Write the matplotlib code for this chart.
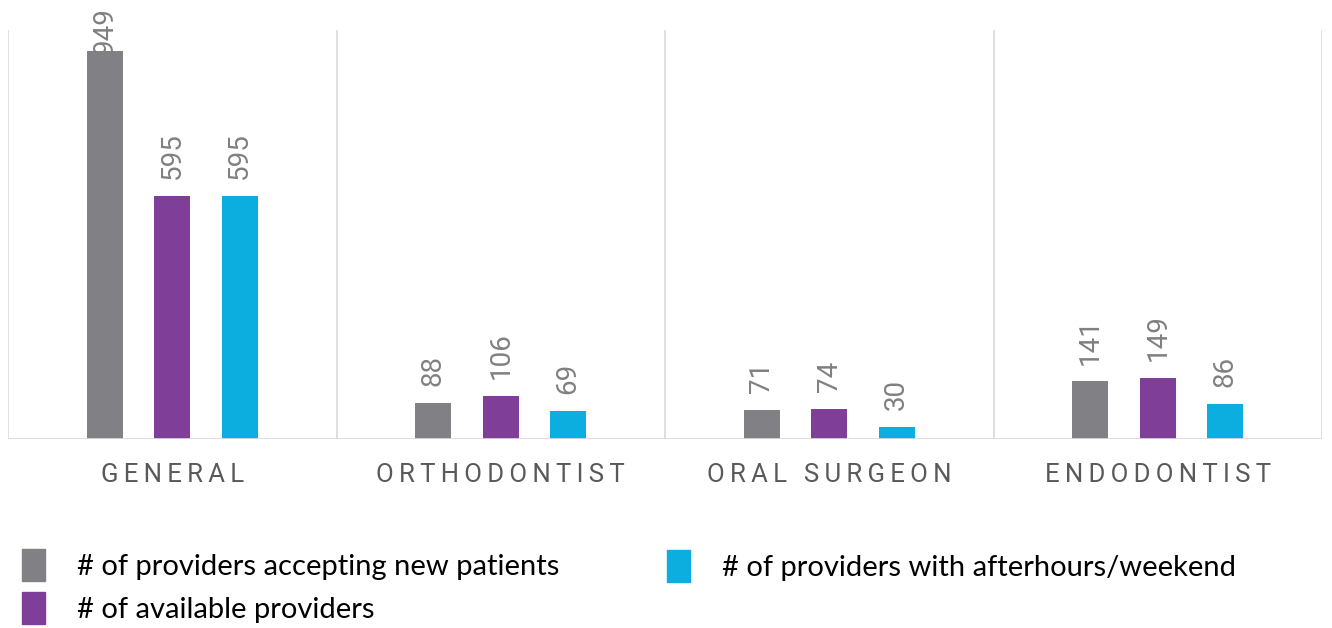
import matplotlib
matplotlib.use("Agg")
import matplotlib.pyplot as plt
from matplotlib.patches import Patch
import numpy as np

categories = ["GENERAL", "ORTHODONTIST", "ORAL SURGEON", "ENDODONTIST"]
series_names = ["# of providers accepting new patients",
                "# of available providers",
                "# of providers with afterhours/weekend"]
accepting_new = [949, 88, 71, 141]
available = [595, 106, 74, 149]
afterhours = [595, 69, 30, 86]
colors = ["#808085", "#7F3F98", "#0BAEDF"]

plt.rcParams['font.family'] = ['Roboto', 'DejaVu Sans']


def spaced(s):
    # fake letter spacing with thin spaces
    return "\u2009".join(s)


fig = plt.figure(figsize=(13.32, 6.28), dpi=100)
ax = fig.add_axes([8 / 1332, 189 / 628, 1314 / 1332, 409 / 628])

x = np.arange(len(categories))
offsets = [-0.205, 0, 0.205]
width = 0.11
for vals, off, col in zip([accepting_new, available, afterhours], offsets, colors):
    ax.bar(x + off, vals, width, color=col, zorder=3)
    for xi, v in zip(x + off, vals):
        dy = 12 if v < 900 else -2
        ax.annotate(str(v), (xi, v), xytext=(0, dy), textcoords="offset points",
                    rotation=90, ha="center", va="bottom", fontsize=20,
                    color="#808080", annotation_clip=False)

ax.set_xlim(-0.5, len(categories) - 0.5)
ax.set_ylim(0, 1000)
for b in np.arange(-0.5, len(categories), 1.0):
    ax.axvline(b, color="#d9d9d9", lw=1.2, zorder=1)
ax.axhline(0, color="#d9d9d9", lw=2, zorder=4)

for s in ax.spines.values():
    s.set_visible(False)
ax.set_yticks([])
ax.set_xticks(x)
ax.set_xticklabels([spaced(c) for c in categories], fontsize=18.5, color="#595959")
ax.tick_params(axis="x", length=0, pad=17)

leg_font = {"family": "Lato", "size": 21}
h = [Patch(color=c) for c in colors]
common = dict(loc="upper left", frameon=False, prop=leg_font,
              handlelength=0.8, handleheight=1.3, handletextpad=1.1,
              borderpad=0, borderaxespad=0)
leg1 = fig.legend(h[:2], series_names[:2],
                  bbox_to_anchor=(22 / 1332, 1 - 549 / 628),
                  labelspacing=0.4, **common)
leg2 = fig.legend(h[2:], series_names[2:],
                  bbox_to_anchor=(667 / 1332, 1 - 550 / 628), **common)

fig.savefig("out.png", dpi=100)
